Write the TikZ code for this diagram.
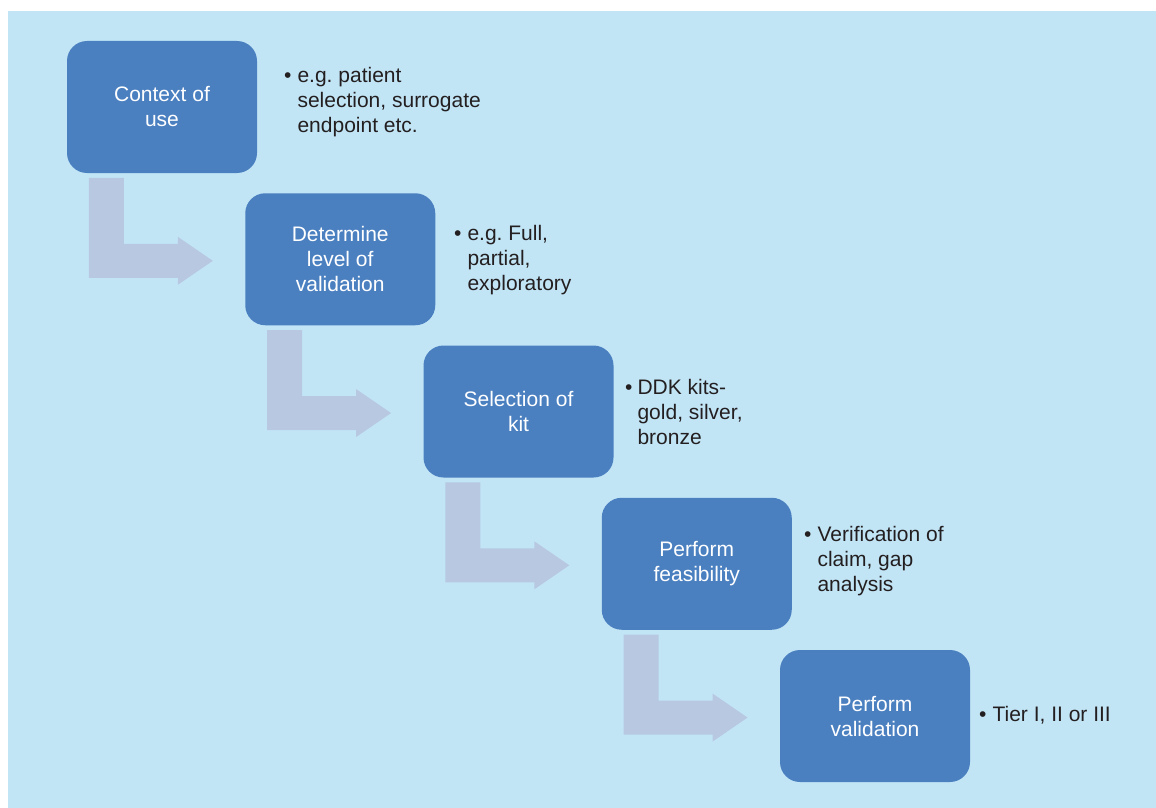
\documentclass[tikz,border=0pt]{standalone}
\usepackage{fontspec}
\setmainfont{Liberation Sans}
\frenchspacing
\definecolor{bgblue}{HTML}{C2E5F6}
\definecolor{boxblue}{HTML}{4A7FC0}
\definecolor{arrowgray}{HTML}{B7C8E0}
\definecolor{txtdark}{HTML}{231F20}
\tikzset{
  stepbox/.style={fill=boxblue, draw=none, rounded corners=20pt, minimum width=190pt, minimum height=132pt, inner sep=0pt, align=center, text=white, font=\fontsize{21}{25}\selectfont},
  note/.style={anchor=base west, inner sep=0pt, text=txtdark, font=\fontsize{21}{25}\selectfont},
  bentarrow/.style={fill=arrowgray, draw=none}
}
\newcommand{\bentarr}[1]{%
  \begin{scope}[shift={(#1.north west)}]
    \fill[bentarrow] (22,137) -- (57,137) -- (57,203) -- (111,203) -- (111,196) -- (146,220) -- (111,244) -- (111,237) -- (22,237) -- cycle;
  \end{scope}}
\begin{document}
\begin{tikzpicture}[x=1pt,y=-1pt]
\useasboundingbox (0,0) rectangle (1156,808);
\fill[bgblue] (8,11) rectangle (1156,808);
\node[stepbox] (b1) at (162,107) {Context of\\use};
\node[stepbox] (b2) at (340.25,259.25) {Determine\\level of\\validation};
\node[stepbox] (b3) at (518.5,411.5) {Selection of\\kit};
\node[stepbox] (b4) at (696.75,563.75) {Perform\\feasibility};
\node[stepbox] (b5) at (875,716) {Perform\\validation};
\bentarr{b1}
\bentarr{b2}
\bentarr{b3}
\bentarr{b4}
\node[note] (t1) at (284,82) {\frenchspacing\begin{tabular}[t]{@{}l@{\hspace{6pt}}l@{}}\textbullet & e.g. patient\\ & selection, surrogate\\ & endpoint etc.\end{tabular}};
\node[note] (t2) at (454,240) {\frenchspacing\begin{tabular}[t]{@{}l@{\hspace{6pt}}l@{}}\textbullet & e.g. Full,\\ & partial,\\ & exploratory\end{tabular}};
\node[note] (t3) at (625,394) {\begin{tabular}[t]{@{}l@{\hspace{5pt}}l@{}}\textbullet & DDK kits-\\ & gold, silver,\\ & bronze\end{tabular}};
\node[note] (t4) at (804,541) {\begin{tabular}[t]{@{}l@{\hspace{6pt}}l@{}}\textbullet & Verification of\\ & claim, gap\\ & analysis\end{tabular}};
\node[note] (t5) at (979,721) {\begin{tabular}[t]{@{}l@{\hspace{6pt}}l@{}}\textbullet & Tier I, II or III\end{tabular}};
\end{tikzpicture}
\end{document}
